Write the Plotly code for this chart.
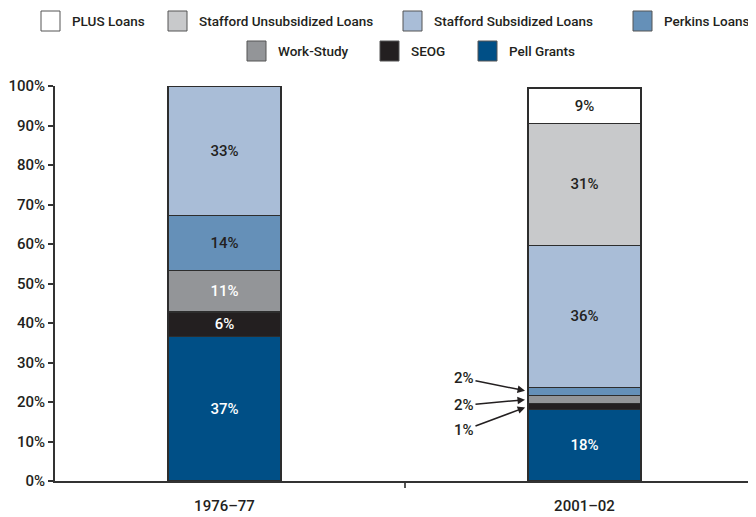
import plotly.graph_objects as go

# ---- data ----
categories = ["1976–77", "2001–02"]
series_names = ["Pell Grants", "SEOG", "Work-Study", "Perkins Loans",
                "Stafford Subsidized Loans", "Stafford Unsubsidized Loans", "PLUS Loans"]
pell = [36.5, 18.2]
seog = [6.3, 1.4]
work_study = [10.5, 2.1]
perkins = [13.9, 2.0]
stafford_sub = [32.8, 36.0]
stafford_unsub = [0.0, 30.9]
plus = [0.0, 8.9]
values = [pell, seog, work_study, perkins, stafford_sub, stafford_unsub, plus]

labels_pell = ["37%", "18%"]
labels_seog = ["6%", ""]
labels_ws = ["11%", ""]
labels_perkins = ["14%", ""]
labels_sub = ["33%", "36%"]
labels_unsub = ["", "31%"]
labels_plus = ["", "9%"]
labels = [labels_pell, labels_seog, labels_ws, labels_perkins, labels_sub, labels_unsub, labels_plus]

# callout labels for the small 2001–02 segments
callout_series = [3, 2, 1]
callout_text = ["2%", "2%", "1%"]
yticks = list(range(0, 101, 10))
ytick_text = [f"{v}%" for v in yticks]

# ---- style ----
colors = ["#004f86", "#231f20", "#939598", "#6590b8", "#a9bdd7", "#c8c9cb", "#ffffff"]
text_colors = ["white", "white", "white", "#231f20", "#231f20", "#231f20", "#231f20"]
FONT = "Roboto, Liberation Sans, Arial, sans-serif"
FS = 15
LFS = 13.5
FW = 500
OFF = 8  # default page body margin
W, H = 756 - OFF, 517 - OFF
L, R, T, B = 55 - OFF, 0, 86 - OFF, 36
BAR_W = 0.314
xpos = [0, 1]

fig = go.Figure()
for i, name in enumerate(series_names):
    fig.add_trace(go.Bar(
        x=xpos, y=values[i], name=name, width=BAR_W,
        marker=dict(color=colors[i], line=dict(color="#2d2d2d", width=1.2)),
        text=labels[i], textposition="inside", insidetextanchor="middle",
        textfont=dict(family=FONT, size=FS, color=text_colors[i], weight=FW),
        showlegend=False, hoverinfo="skip",
    ))

pw = W - L - R
ph = H - T - B
def px(x):
    return (x - OFF - L) / pw
def py(y):
    return (H - B - (y - OFF)) / ph

shapes = []
annotations = []
legend_items = [
    ("PLUS Loans", 6, 41, 21), ("Stafford Unsubsidized Loans", 5, 168, 21),
    ("Stafford Subsidized Loans", 4, 403, 21), ("Perkins Loans", 3, 633, 21),
    ("Work-Study", 2, 247, 51), ("SEOG", 1, 380, 51), ("Pell Grants", 0, 478, 51),
]
for name, ci, bx, cy in legend_items:
    shapes.append(dict(type="rect", xref="paper", yref="paper",
                       x0=px(bx), x1=px(bx + 19), y0=py(cy - 10), y1=py(cy + 10),
                       fillcolor=colors[ci], line=dict(color="#555555", width=1)))
    annotations.append(dict(xref="paper", yref="paper", x=px(bx + 29), y=py(cy),
                            xanchor="left", yanchor="middle", showarrow=False,
                            text=name, font=dict(family=FONT, size=LFS, color="#231f20", weight=FW)))

# callouts with arrows
cum = 0
mids = []
for i in range(len(values)):
    mids.append(cum + values[i][1] / 2)
    cum += values[i][1]
offsets = [(-64, -13), (-64, 6), (-64, 24)]
for (si, t), (ax, ay) in zip(zip(callout_series, callout_text), offsets):
    annotations.append(dict(x=1 - BAR_W / 2, y=mids[si], xref="x", yref="y",
                            text=t, showarrow=True, ax=ax, ay=ay,
                            arrowhead=2, arrowsize=1, arrowwidth=1.5, arrowcolor="#231f20",
                            standoff=3, font=dict(family=FONT, size=FS, color="#231f20", weight=FW)))

fig.update_layout(
    width=W, height=H, margin=dict(l=L, r=R, t=T, b=B, pad=0),
    barmode="stack", plot_bgcolor="white", paper_bgcolor="white",
    shapes=shapes, annotations=annotations,
    font=dict(family=FONT, size=FS, color="#231f20"),
)
fig.update_xaxes(
    range=[-169.5 / 360, (756 - 224.5) / 360], tickmode="array", tickvals=xpos, ticktext=categories,
    ticks="", showline=True, linecolor="#333333", linewidth=2, showgrid=False, zeroline=False,
    ticklabelstandoff=10, tickfont=dict(family=FONT, size=FS, color="#231f20", weight=FW),
    minor=dict(ticks="outside", tick0=0.5, dtick=1, ticklen=5, tickwidth=2, tickcolor="#555555", showgrid=False),
)
fig.update_yaxes(
    range=[0, 100], tickmode="array", tickvals=yticks, ticktext=ytick_text,
    ticks="outside", ticklen=5, tickwidth=2, tickcolor="#333333",
    showline=True, linecolor="#333333", linewidth=2, showgrid=False, zeroline=False,
    tickfont=dict(family=FONT, size=FS, color="#231f20", weight=FW), ticklabelstandoff=0,
)
fig.write_html("out.html")
